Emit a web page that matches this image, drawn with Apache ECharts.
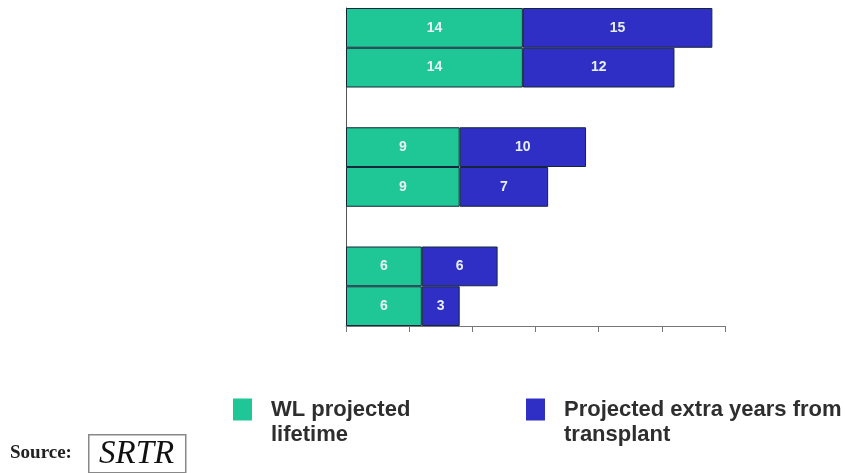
<!DOCTYPE html>
<html>
<head>
<meta charset="utf-8">
<script src="https://cdn.jsdelivr.net/npm/echarts@6/dist/echarts.min.js"></script>
<style>
html,body{margin:0;padding:0;background:#fff;}
#chart{width:846px;height:473px;}
</style>
</head>
<body>
<div id="chart"></div>
<script>
// Rows from top to bottom; empty rows are the gaps between groups
var categories = ['r1', 'r2', 'gap1', 'r3', 'r4', 'gap2', 'r5', 'r6'];
var wlLifetime = [14, 14, null, 9, 9, null, 6, 6];
var extraYears = [15, 12, null, 10, 7, null, 6, 3];
var seriesNames = ['WL projected lifetime', 'Projected extra years from transplant'];
var legendLines = [['WL projected', 'lifetime'], ['Projected extra years from', 'transplant']];
var xTicks = [0, 5, 10, 15, 20, 25, 30];

var chart = echarts.init(document.getElementById('chart'));
var GREEN = '#1fc796';
var BLUE = '#2f2fc6';
var BORDER = '#16263a';

var labelStyle = {
  show: true,
  position: 'inside',
  color: '#e8eff3',
  fontWeight: 'bold',
  fontSize: 14,
  fontFamily: 'Liberation Sans, Arial, sans-serif'
};

function legendFormatter(idx) {
  return function () {
    return '{p| }\n' + legendLines[idx].map(function (l) { return '{t|' + l + '}'; }).join('\n');
  };
}

var legendTextStyle = {
  fontSize: 22,
  fontWeight: 'bold',
  color: '#2e2e2e',
  fontFamily: 'Liberation Sans, Arial, sans-serif',
  lineHeight: 25,
  rich: {
    p: { lineHeight: 25, fontSize: 22 },
    t: {
      fontSize: 22, fontWeight: 'bold', color: '#2e2e2e',
      fontFamily: 'Liberation Sans, Arial, sans-serif',
      lineHeight: 25, padding: [0, 0, 0, 14]
    }
  }
};

chart.setOption({
  animation: false,
  backgroundColor: '#fff',
  grid: { left: 346, right: 121, top: 8, bottom: 147, containLabel: false },
  xAxis: {
    type: 'value',
    min: xTicks[0],
    max: xTicks[xTicks.length - 1],
    interval: xTicks[1] - xTicks[0],
    axisLabel: { show: false },
    splitLine: { show: false },
    axisLine: { show: true, lineStyle: { color: '#777', width: 1 } },
    axisTick: { show: true, length: 6, lineStyle: { color: '#777' } }
  },
  yAxis: {
    type: 'category',
    data: categories,
    inverse: true,
    axisLabel: { show: false },
    axisTick: { show: false },
    axisLine: { show: true, lineStyle: { color: '#555', width: 1 } },
    splitLine: { show: false }
  },
  legend: [
    {
      data: [seriesNames[0]],
      left: 233, top: 372,
      padding: 0,
      itemWidth: 19, itemHeight: 22, itemGap: 0,
      icon: 'rect',
      itemStyle: { borderWidth: 0 },
      formatter: legendFormatter(0),
      textStyle: legendTextStyle
    },
    {
      data: [seriesNames[1]],
      left: 526, top: 372,
      padding: 0,
      itemWidth: 19, itemHeight: 22, itemGap: 0,
      icon: 'rect',
      itemStyle: { borderWidth: 0 },
      formatter: legendFormatter(1),
      textStyle: legendTextStyle
    }
  ],
  series: [
    {
      name: seriesNames[0],
      type: 'bar',
      stack: 'total',
      barCategoryGap: '0%',
      data: wlLifetime,
      itemStyle: { color: GREEN, borderColor: BORDER, borderWidth: 1 },
      label: labelStyle
    },
    {
      name: seriesNames[1],
      type: 'bar',
      stack: 'total',
      barCategoryGap: '0%',
      data: extraYears,
      itemStyle: { color: BLUE, borderColor: BORDER, borderWidth: 1 },
      label: labelStyle
    }
  ],
  graphic: [
    {
      type: 'text', left: 10, top: 444,
      style: { text: 'Source:', font: 'bold 19px "Liberation Serif", "Times New Roman", serif', fill: '#222' }
    },
    {
      type: 'rect', left: 88, top: 434,
      shape: { width: 97, height: 38 },
      style: { fill: '#fff', stroke: '#888', lineWidth: 1.5 }
    },
    {
      type: 'text', left: 99, top: 438,
      style: { text: 'SRTR', font: 'italic 33px "Liberation Serif", "Times New Roman", serif', fill: '#111' }
    }
  ]
});
</script>
</body>
</html>
